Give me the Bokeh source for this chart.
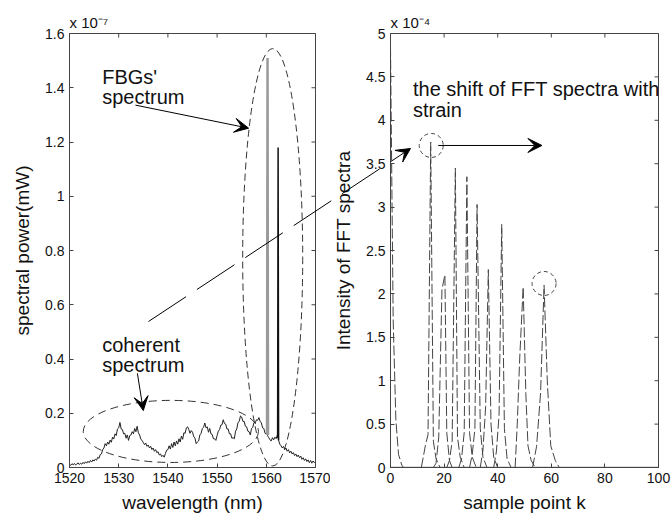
import math
from bokeh.plotting import figure
from bokeh.layouts import GridPlot
from bokeh.models import (Arrow, VeeHead, Label, FixedTicker, CustomJSTickFormatter, Range1d, Title)
from bokeh.embed import file_html
from bokeh.resources import INLINE

FONT = "Liberation Sans"

# ---------------- data: left panel (spectral power, x 1e-7 mW) ----------------
wl_first = 1520.0
wl_step = 0.25
coherent_power = [
    0.012, 0.008, 0.014, 0.010, 0.015, 0.009, 0.013, 0.017, 0.011, 0.016, 0.012, 0.019, 0.014, 0.021, 0.016, 0.023, 0.018, 0.026, 0.020, 0.028,
    0.024, 0.031, 0.027, 0.038, 0.034, 0.048, 0.050, 0.066, 0.072, 0.088, 0.080, 0.094, 0.086, 0.101, 0.093, 0.112, 0.105, 0.124, 0.118, 0.142,
    0.146, 0.166, 0.142, 0.140, 0.124, 0.126, 0.108, 0.120, 0.100, 0.118, 0.120, 0.132, 0.124, 0.144, 0.132, 0.152, 0.128, 0.120, 0.104, 0.100,
    0.092, 0.084, 0.090, 0.078, 0.083, 0.072, 0.078, 0.066, 0.072, 0.060, 0.066, 0.055, 0.058, 0.046, 0.050, 0.040, 0.045, 0.038, 0.052, 0.064,
    0.066, 0.080, 0.068, 0.088, 0.074, 0.094, 0.080, 0.098, 0.086, 0.106, 0.094, 0.116, 0.104, 0.128, 0.126, 0.146, 0.150, 0.140, 0.126, 0.136,
    0.130, 0.114, 0.108, 0.088, 0.094, 0.098, 0.120, 0.126, 0.144, 0.148, 0.164, 0.146, 0.150, 0.130, 0.144, 0.124, 0.122, 0.106, 0.106, 0.100,
    0.118, 0.134, 0.140, 0.156, 0.158, 0.176, 0.162, 0.160, 0.142, 0.142, 0.124, 0.124, 0.108, 0.110, 0.106, 0.134, 0.142, 0.166, 0.170, 0.190,
    0.186, 0.170, 0.170, 0.152, 0.150, 0.134, 0.132, 0.120, 0.144, 0.148, 0.166, 0.164, 0.176, 0.174, 0.184, 0.170, 0.164, 0.146, 0.144, 0.126,
    0.124, 0.118, 0.110, 0.102, 0.098, 0.110, 0.102, 0.112, 0.106, 0.120, 0.100, 0.086, 0.080, 0.072, 0.078, 0.066, 0.072, 0.060, 0.066, 0.054,
    0.060, 0.050, 0.055, 0.044, 0.050, 0.040, 0.046, 0.036, 0.042, 0.030, 0.036, 0.026, 0.032, 0.022, 0.028, 0.018, 0.026, 0.016, 0.024, 0.018, 0.022,
]
wavelength = [wl_first + wl_step * i for i in range(len(coherent_power))]

fbg1_wl = [1560.15, 1560.25, 1560.35]
fbg1_power = [0.12, 1.51, 0.12]
fbg2_wl = [1562.3, 1562.4, 1562.5]
fbg2_power = [0.11, 1.18, 0.10]

left_xticks = [1520, 1530, 1540, 1550, 1560, 1570]
left_yticks = [0, 0.2, 0.4, 0.6, 0.8, 1, 1.2, 1.4, 1.6]
left_scale_note = "x 10⁻⁷"

# ---------------- data: right panel (FFT intensity, x 1e-4) ----------------
fft_k = [
    [0, 1, 2, 3, 4.3, 5],
    [11.5, 13, 14, 15, 16, 17, 18.5],
    [16, 17, 18, 19.2, 20.3, 21, 22, 23],
    [21, 22, 23, 24.2, 25, 26, 27.5],
    [25.5, 26.5, 27.5, 28.5, 29.5, 30.5, 32],
    [29.5, 30.5, 31.5, 32.3, 33.5, 34.5, 36],
    [33.5, 34.5, 35.5, 36.5, 37.5, 38.5, 40],
    [38.5, 39.5, 40.5, 41.5, 42.5, 43.5, 45],
    [46.5, 47.3, 48.2, 49.5, 50.5, 51.3, 52.5, 54],
    [53, 54.5, 56, 57.3, 58.5, 59.8, 61.5, 63],
]
fft_intensity = [
    [4.85, 1.7, 0.55, 0.15, 0.02, 0],
    [0, 0.25, 0.38, 3.75, 0.3, 0.1, 0],
    [0, 0.05, 0.35, 2.05, 2.22, 0.4, 0.08, 0],
    [0, 0.08, 0.3, 3.45, 0.35, 0.12, 0],
    [0, 0.1, 0.4, 3.35, 0.4, 0.12, 0],
    [0, 0.15, 0.45, 3.03, 0.45, 0.12, 0],
    [0, 0.2, 0.7, 2.28, 0.5, 0.12, 0],
    [0, 0.18, 0.6, 2.8, 0.45, 0.1, 0],
    [0, 0.5, 1.25, 2.08, 0.85, 0.25, 0.08, 0],
    [0, 0.24, 0.86, 2.1, 1.0, 0.25, 0.08, 0],
]
baseline_k = [0, 100]
baseline_val = [0, 0]

right_xticks = [0, 20, 40, 60, 80, 100]
right_yticks = [0, 0.5, 1, 1.5, 2, 2.5, 3, 3.5, 4, 4.5, 5]
right_scale_note = "x 10⁻⁴"

AXC = "#444444"
TXT = "#111111"


def style_axes(p, xticks, yticks, xlabel, ylabel, ylabel_standoff, note):
    fmt = CustomJSTickFormatter(code="return tick.toString();")
    for ax, ticks in ((p.xaxis[0], xticks), (p.yaxis[0], yticks)):
        ax.ticker = FixedTicker(ticks=ticks)
        ax.formatter = fmt
        ax.major_tick_in = 4
        ax.major_tick_out = 0
        ax.minor_tick_line_color = None
        ax.axis_line_color = AXC
        ax.major_tick_line_color = AXC
        ax.major_label_text_font = FONT
        ax.major_label_text_font_size = "14px"
        ax.major_label_text_color = TXT
        ax.major_label_standoff = 5
        ax.axis_label_text_font = FONT
        ax.axis_label_text_font_size = "19px"
        ax.axis_label_text_font_style = "normal"
        ax.axis_label_text_color = TXT
    p.xaxis[0].axis_label = xlabel
    p.xaxis[0].axis_label_standoff = 6
    p.yaxis[0].axis_label = ylabel
    p.yaxis[0].axis_label_standoff = ylabel_standoff
    p.grid.visible = False
    p.outline_line_color = AXC
    p.title = Title(text=note, align="left", offset=0, standoff=5, text_font=FONT,
                    text_font_size="15px", text_font_style="normal", text_color=TXT)
    # inward ticks on the top and right edges of the box (outer halves fall outside the frame)
    x_end = p.x_range.end
    y_end = p.y_range.end
    p.scatter(x=xticks, y=[y_end] * len(xticks), marker="dash", angle=math.pi / 2, size=8,
              line_color=AXC, line_width=1)
    p.scatter(x=[x_end] * len(yticks), y=yticks, marker="dash", size=8,
              line_color=AXC, line_width=1)


def head():
    return VeeHead(size=14, fill_color="black", line_color="black")


# ---------------- left figure ----------------
p1 = figure(width=330, height=520, x_range=Range1d(1520, 1570), y_range=Range1d(0, 1.6),
            output_backend="svg", toolbar_location=None,
            min_border_left=69, min_border_right=15, min_border_top=33, min_border_bottom=53)
style_axes(p1, left_xticks, left_yticks, "wavelength (nm)", "spectral power(mW)", 9, left_scale_note)

p1.line(wavelength, coherent_power, line_color="#222222", line_width=1)
p1.line(fbg1_wl, fbg1_power, line_color="#9a9a9a", line_width=2.5)
p1.line(fbg2_wl, fbg2_power, line_color="#111111", line_width=1.5)

p1.ellipse(x=[1561.3], y=[0.775], width=[12.2], height=[1.54], fill_color=None,
           line_color="#333333", line_dash="7 4", line_width=1)
p1.ellipse(x=[1540.6], y=[0.133], width=[35.6], height=[0.229], fill_color=None,
           line_color="#333333", line_dash="8 5", line_width=1)

p1.add_layout(Arrow(end=head(), x_start=1533.4, y_start=1.336, x_end=1556.4, y_end=1.251,
                    line_color="black", line_width=1))
p1.add_layout(Arrow(end=head(), x_start=1533.8, y_start=0.347, x_end=1535.0, y_end=0.21,
                    line_color="black", line_width=1))

for txt, x, y in (("FBGs'", 1526.65, 1.440), ("spectrum", 1526.65, 1.366),
                  ("coherent", 1526.65, 0.450), ("spectrum", 1526.65, 0.378)):
    p1.add_layout(Label(x=x, y=y, text=txt, text_font=FONT, text_font_size="20px",
                        text_color=TXT, text_baseline="alphabetic"))

# ---------------- right figure ----------------
p2 = figure(width=341, height=520, x_range=Range1d(0, 100), y_range=Range1d(0, 5),
            output_backend="svg", toolbar_location=None,
            min_border_left=59, min_border_right=13, min_border_top=33, min_border_bottom=53)
style_axes(p2, right_xticks, right_yticks, "sample point k", "Intensity of FFT spectra", 9, right_scale_note)

p2.line(baseline_k, baseline_val, line_color="#777777", line_width=1.5)
for ks, vs in zip(fft_k, fft_intensity):
    p2.line(ks, vs, line_color="#444444", line_width=1, line_dash="10 3")

p2.scatter(x=[15.2], y=[3.71], size=24, marker="circle", fill_color=None,
           line_color="#444444", line_dash="4 3")
p2.scatter(x=[57.3], y=[2.12], size=24, marker="circle", fill_color=None,
           line_color="#444444", line_dash="4 3")

p2.add_layout(Arrow(end=head(), x_start=17.8, y_start=3.71, x_end=56.5, y_end=3.71,
                    line_color="black", line_width=1))

for txt, x, y in (("the shift of FFT spectra with", 8.4, 4.356), ("strain", 8.4, 4.115)):
    p2.add_layout(Label(x=x, y=y, text=txt, text_font=FONT, text_font_size="20px",
                        text_color=TXT, text_baseline="alphabetic"))

# ---------------- transparent overlay spanning both panels ----------------
# its frame is aligned by the grid to the union of both frames; ranges are page pixels
p3 = figure(width=671, height=520, x_range=Range1d(69, 658), y_range=Range1d(467, 33),
            output_backend="svg", toolbar_location=None, x_axis_type=None, y_axis_type=None,
            min_border=0, background_fill_color=None, border_fill_color=None,
            outline_line_color=None)
p3.grid.visible = False
p3.add_layout(Arrow(end=head(), x_start=148, y_start=321, x_end=410, y_end=148,
                    line_color="black", line_width=1, line_dash="45 13"))

layout = GridPlot(children=[(p1, 0, 0), (p2, 0, 1), (p3, 0, 0, 1, 2)], toolbar_location=None)
open("out.html", "w").write(file_html(layout, INLINE))
